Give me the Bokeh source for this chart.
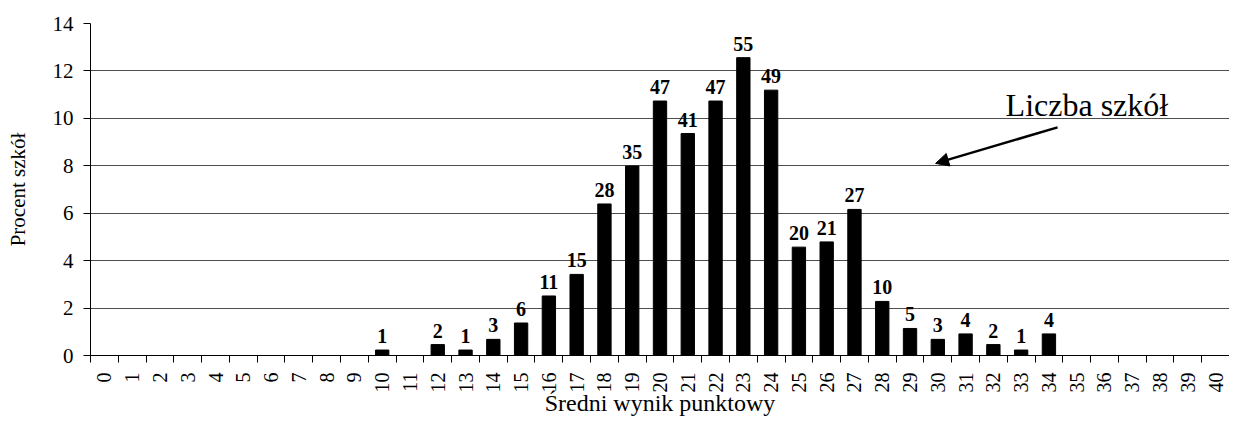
import math
from bokeh.plotting import figure
from bokeh.models import (Range1d, FixedTicker, ColumnDataSource, Label, Arrow, NormalHead)
from bokeh.core.properties import value
from bokeh.embed import file_html
from bokeh.resources import INLINE

# ---- data ----
tick_scores = list(range(0, 41))
bar_scores = [10, 12, 13, 14, 15, 16, 17, 18, 19, 20, 21, 22, 23, 24, 25, 26, 27, 28, 29, 30, 31, 32, 33, 34]
school_counts = [1, 2, 1, 3, 6, 11, 15, 28, 35, 47, 41, 47, 55, 49, 20, 21, 27, 10, 5, 3, 4, 2, 1, 4]
percent_schools = [0.23, 0.46, 0.23, 0.68, 1.37, 2.51, 3.42, 6.39, 7.99, 10.73, 9.36, 10.73,
                   12.56, 11.19, 4.57, 4.79, 6.16, 2.28, 1.14, 0.68, 0.91, 0.46, 0.23, 0.91]
y_ticks = [0, 2, 4, 6, 8, 10, 12, 14]

FONT = "Liberation Serif"

src = ColumnDataSource(dict(x=bar_scores, top=percent_schools,
                            lbl=[str(c) for c in school_counts]))

p = figure(width=1229, height=418, output_backend="svg", toolbar_location=None,
           x_range=Range1d(-0.5, 40.5), y_range=Range1d(0, 14),
           min_border_left=90, min_border_right=0, min_border_top=23, min_border_bottom=40)
p.outline_line_color = None
p.background_fill_color = "white"
p.border_fill_color = "white"

p.vbar(x="x", top="top", width=0.48, source=src, fill_color="black", line_color="black")
p.text(x="x", y="top", text="lbl", source=src, text_align="center", text_baseline="alphabetic",
       y_offset=-14, text_font=value(FONT), text_font_style="bold", text_font_size="20px",
       text_color="black")

# x axis
xa = p.xaxis[0]
xa.ticker = FixedTicker(ticks=tick_scores, minor_ticks=[t - 0.5 for t in tick_scores] + [40.5])
xa.major_tick_line_color = None
xa.major_tick_out = 0
xa.major_tick_in = 0
xa.minor_tick_out = 7
xa.minor_tick_in = 0
xa.minor_tick_line_color = "black"
xa.major_label_orientation = math.pi / 2
xa.major_label_standoff = 10
xa.major_label_text_font = FONT
xa.major_label_text_font_size = "20px"
xa.major_label_text_color = "black"
xa.axis_line_color = "black"
xa.axis_label = "Średni wynik punktowy"
xa.axis_label_text_font = FONT
xa.axis_label_text_font_size = "24px"
xa.axis_label_text_font_style = "normal"
xa.axis_label_text_color = "black"
xa.axis_label_standoff = -6

# y axis
ya = p.yaxis[0]
ya.ticker = FixedTicker(ticks=y_ticks)
ya.minor_tick_line_color = None
ya.major_tick_out = 7
ya.major_tick_in = 0
ya.major_tick_line_color = "black"
ya.axis_line_color = "black"
ya.major_label_standoff = 10
ya.major_label_text_font = FONT
ya.major_label_text_font_size = "21px"
ya.major_label_text_color = "black"
ya.axis_label = "Procent szkół"
ya.axis_label_text_font = FONT
ya.axis_label_text_font_size = "21px"
ya.axis_label_text_font_style = "normal"
ya.axis_label_text_color = "black"
ya.axis_label_standoff = 20

p.xgrid.grid_line_color = None
p.ygrid.grid_line_color = "#4d4d4d"
p.ygrid.grid_line_width = 1

# annotation
p.add_layout(Label(x=32.44, y=10.55, text="Liczba szkół", text_font=FONT, text_font_size="32px",
                   text_color="black", text_align="left", text_baseline="alphabetic"))
p.add_layout(Arrow(x_start=34.31, y_start=9.62, x_end=29.92, y_end=8.10, line_width=2.5,
                   line_color="black",
                   end=NormalHead(size=13, fill_color="black", line_color="black")))

open("out.html", "w").write(file_html(p, INLINE))
